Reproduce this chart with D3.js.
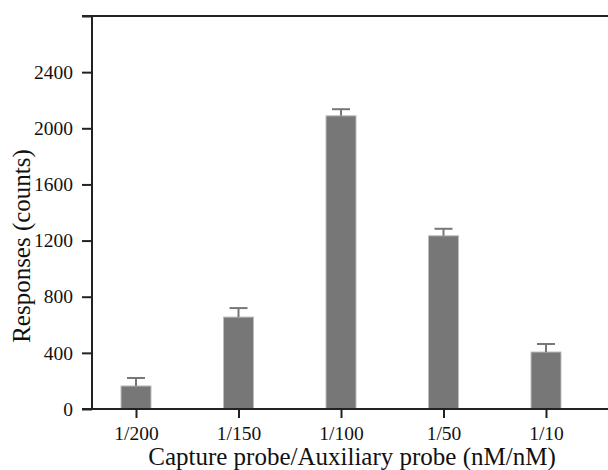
<!DOCTYPE html>
<html><head><meta charset="utf-8">
<script src="https://cdn.jsdelivr.net/npm/d3@7"></script>
<style>body{margin:0;background:#fff}svg{display:block}text{font-family:"Liberation Serif","Times New Roman",serif;fill:#111}</style>
</head><body><svg id="c" width="608" height="470"></svg>
<script>
const categories = ["1/200","1/150","1/100","1/50","1/10"];
const values = [164, 655, 2089, 1234, 406];
const errors = [57, 64, 47, 50, 57];
const yTicks = [0, 400, 800, 1200, 1600, 2000, 2400];

const svg = d3.select("#c");
const x = d3.scalePoint().domain(categories).range([136, 546]);
const y = d3.scaleLinear().domain([0, 2800]).range([409, 16]);
const barW = 30;

// bars
svg.selectAll("rect.bar").data(categories).enter().append("rect")
  .attr("x", d => x(d) - barW/2)
  .attr("y", (d,i) => y(values[i]))
  .attr("width", barW)
  .attr("height", (d,i) => y(0) - y(values[i]))
  .attr("fill", "#777").attr("stroke", "#bdbdbd").attr("stroke-width", 1);

// error bars
const eg = svg.append("g").attr("stroke", "#777").attr("stroke-width", 2);
categories.forEach((c,i) => {
  eg.append("line").attr("x1", x(c)).attr("x2", x(c)).attr("y1", y(values[i])).attr("y2", y(values[i]+errors[i]));
  eg.append("line").attr("x1", x(c)-9).attr("x2", x(c)+9).attr("y1", y(values[i]+errors[i])).attr("y2", y(values[i]+errors[i]));
});

// axes
const axC = "#222";
const yAxis = d3.axisLeft(y).tickValues(yTicks.concat([2800])).tickSize(10).tickPadding(9)
  .tickFormat(d => d === 2800 ? "" : d);
const gy = svg.append("g").attr("transform", "translate(92,0)").call(yAxis);
gy.select(".domain").remove();
gy.selectAll(".tick line").attr("stroke", axC).attr("stroke-width", 2);
gy.selectAll(".tick text").attr("font-size", 19.5).style("font-family", '"Liberation Serif",serif').attr("fill", "#111");
svg.append("line").attr("x1", 92).attr("x2", 92).attr("y1", y(2800)).attr("y2", y(0)).attr("stroke", axC).attr("stroke-width", 2);
svg.append("line").attr("x1", 82).attr("x2", 608).attr("y1", y(0)).attr("y2", y(0)).attr("stroke", axC).attr("stroke-width", 2);
svg.append("line").attr("x1", 82).attr("x2", 608).attr("y1", y(2800)).attr("y2", y(2800)).attr("stroke", axC).attr("stroke-width", 2);

const xAxis = d3.axisBottom(x).tickSize(9).tickPadding(8);
const gx = svg.append("g").attr("transform", `translate(0,${y(0)})`).call(xAxis);
gx.select(".domain").remove();
gx.selectAll(".tick line").attr("stroke", axC).attr("stroke-width", 2);
gx.selectAll(".tick text").attr("font-size", 19.5).style("font-family", '"Liberation Serif",serif').attr("fill", "#111");

svg.append("text").attr("x", 352).attr("y", 465).attr("text-anchor", "middle").attr("font-size", 25)
  .text("Capture probe/Auxiliary probe (nM/nM)");
svg.append("text").attr("transform", "translate(30,246) rotate(-90)").attr("text-anchor", "middle").attr("font-size", 25)
  .text("Responses (counts)");
</script></body></html>
